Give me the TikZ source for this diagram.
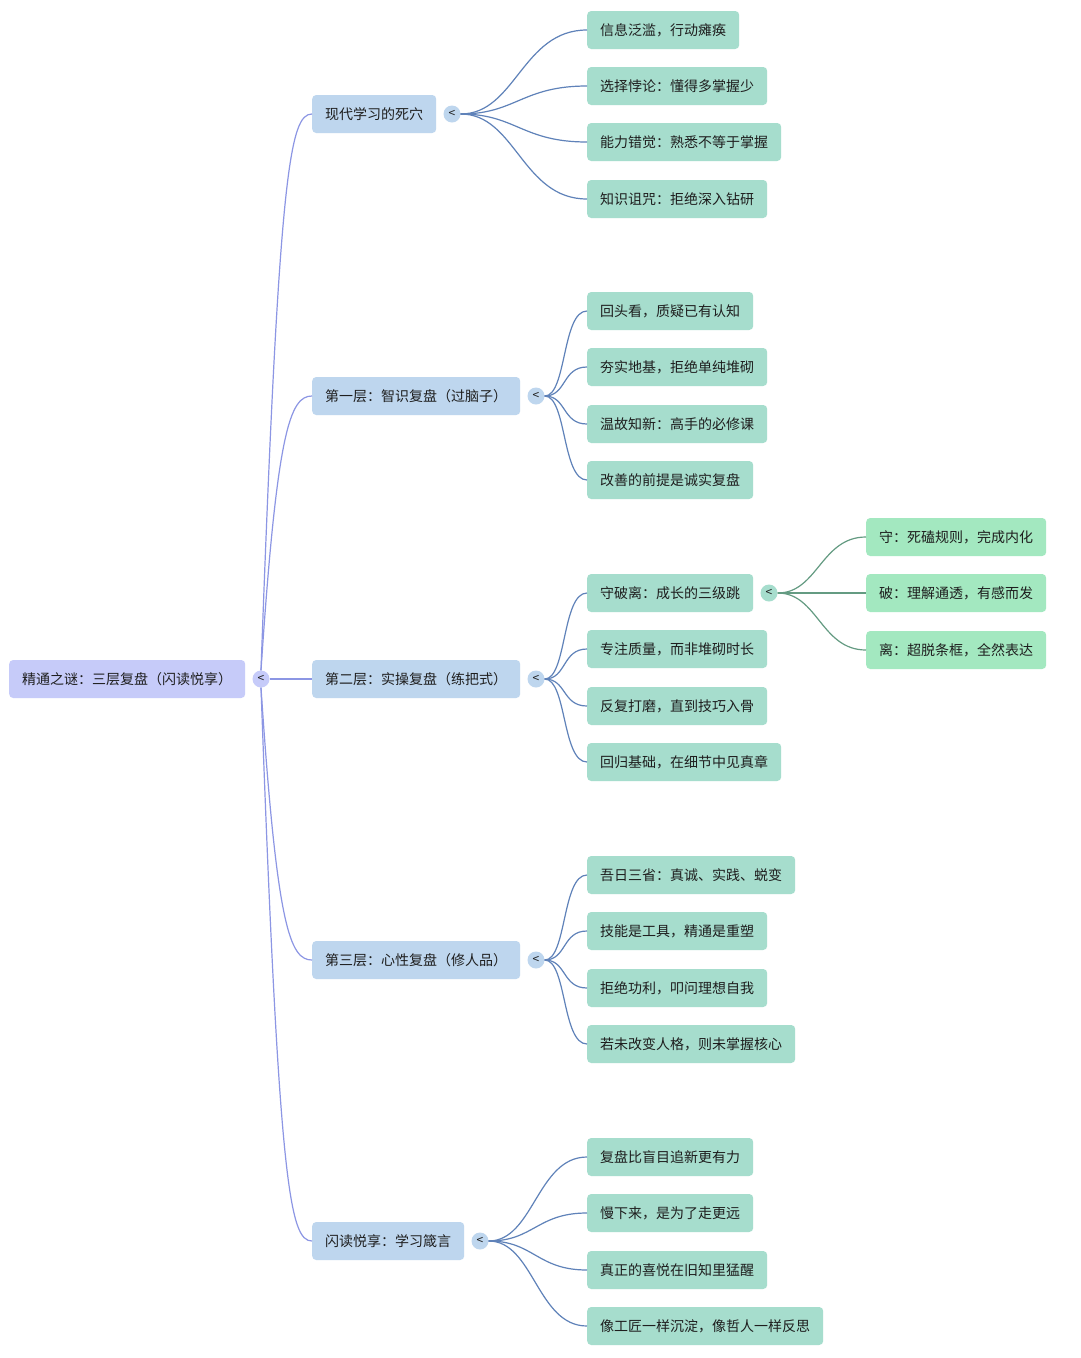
\documentclass[tikz,border=0pt]{standalone}
\usepackage{fontspec}
\setmainfont{Noto Sans CJK SC}
\definecolor{rootfill}{RGB}{198,203,249}
\definecolor{lonefill}{RGB}{190,214,238}
\definecolor{leaffill}{RGB}{166,221,205}
\definecolor{subfill}{RGB}{163,232,192}
\definecolor{rootline}{RGB}{140,150,228}
\definecolor{loneline}{RGB}{95,130,185}
\definecolor{subline}{RGB}{100,155,130}
\definecolor{txt}{RGB}{30,30,30}
\newcommand{\nodefont}{\fontsize{14}{16}\selectfont}
\tikzset{
  box/.style={rounded corners=4pt, inner xsep=13pt, inner ysep=0pt, minimum height=38pt, anchor=west, text=txt, font=\nodefont},
  rootbox/.style={box, fill=rootfill},
  lonebox/.style={box, fill=lonefill},
  leafbox/.style={box, fill=leaffill},
  subbox/.style={box, fill=subfill},
  tog/.style={circle, inner sep=0pt, minimum size=17pt, text=txt, font=\fontsize{12}{12}\selectfont},
  rl/.style={draw=rootline, line width=1.2pt},
  ll/.style={draw=loneline, line width=1.2pt},
  sl/.style={draw=subline, line width=1.2pt},
}
\begin{document}
\begin{tikzpicture}[x=1pt,y=-1pt]
\useasboundingbox (0,0) rectangle (1080,1358);
\fill[white] (0,0) rectangle (1080,1358);

% root
\node[rootbox] (root) at (9,679) {精通之谜：三层复盘（闪读悦享）};
\node[tog, fill=rootfill] (rc) at (261,679) {<};

% level 1
\node[lonebox] (a) at (312,114) {现代学习的死穴};
\node[lonebox] (b) at (312,396) {第一层：智识复盘（过脑子）};
\node[lonebox] (c) at (312,679) {第二层：实操复盘（练把式）};
\node[lonebox] (d) at (312,960) {第三层：心性复盘（修人品）};
\node[lonebox] (e) at (312,1241) {闪读悦享：学习箴言};
\node[tog, fill=lonefill] (ac) at (452,114) {<};
\node[tog, fill=lonefill] (bc) at (536,396) {<};
\node[tog, fill=lonefill] (cc) at (536,679) {<};
\node[tog, fill=lonefill] (dc) at (536,960) {<};
\node[tog, fill=lonefill] (ec) at (480,1241) {<};

% leaves group a
\node[leafbox] (a1) at (587,30) {信息泛滥，行动瘫痪};
\node[leafbox] (a2) at (587,86) {选择悖论：懂得多掌握少};
\node[leafbox] (a3) at (587,142) {能力错觉：熟悉不等于掌握};
\node[leafbox] (a4) at (587,199) {知识诅咒：拒绝深入钻研};
% group b
\node[leafbox] (b1) at (587,311) {回头看，质疑已有认知};
\node[leafbox] (b2) at (587,367) {夯实地基，拒绝单纯堆砌};
\node[leafbox] (b3) at (587,424) {温故知新：高手的必修课};
\node[leafbox] (b4) at (587,480) {改善的前提是诚实复盘};
% group c
\node[leafbox] (c1) at (587,593) {守破离：成长的三级跳};
\node[leafbox] (c2) at (587,649) {专注质量，而非堆砌时长};
\node[leafbox] (c3) at (587,706) {反复打磨，直到技巧入骨};
\node[leafbox] (c4) at (587,762) {回归基础，在细节中见真章};
\node[tog, fill=leaffill] (c1c) at (769,593) {<};
% sub leaves
\node[subbox] (s1) at (866,537) {守：死磕规则，完成内化};
\node[subbox] (s2) at (866,593) {破：理解通透，有感而发};
\node[subbox] (s3) at (866,650) {离：超脱条框，全然表达};
% group d
\node[leafbox] (d1) at (587,875) {吾日三省：真诚、实践、蜕变};
\node[leafbox] (d2) at (587,931) {技能是工具，精通是重塑};
\node[leafbox] (d3) at (587,988) {拒绝功利，叩问理想自我};
\node[leafbox] (d4) at (587,1044) {若未改变人格，则未掌握核心};
% group e
\node[leafbox] (e1) at (587,1157) {复盘比盲目追新更有力};
\node[leafbox] (e2) at (587,1213) {慢下来，是为了走更远};
\node[leafbox] (e3) at (587,1270) {真正的喜悦在旧知里猛醒};
\node[leafbox] (e4) at (587,1326) {像工匠一样沉淀，像哲人一样反思};

% root connectors
\draw[rl] (rc.north) .. controls +(18,-500) and +(-22,0) .. (a.west);
\draw[rl] (rc.north) .. controls +(16,-240) and +(-22,0) .. (b.west);
\draw[rl] (rc.east) -- (c.west);
\draw[rl] (rc.south) .. controls +(16,240) and +(-22,0) .. (d.west);
\draw[rl] (rc.south) .. controls +(18,500) and +(-22,0) .. (e.west);

% group connectors
\foreach \i in {1,...,4} {
  \draw[ll] (ac.east) .. controls +(55,0) and +(-65,0) .. (a\i.west);
  \draw[ll] (bc.east) .. controls +(22,0) and +(-25,0) .. (b\i.west);
  \draw[ll] (cc.east) .. controls +(22,0) and +(-25,0) .. (c\i.west);
  \draw[ll] (dc.east) .. controls +(22,0) and +(-25,0) .. (d\i.west);
  \draw[ll] (ec.east) .. controls +(45,0) and +(-50,0) .. (e\i.west);
}
\foreach \i in {1,2,3} {
  \draw[sl] (c1c.east) .. controls +(40,0) and +(-45,0) .. (s\i.west);
}
\end{tikzpicture}
\end{document}
